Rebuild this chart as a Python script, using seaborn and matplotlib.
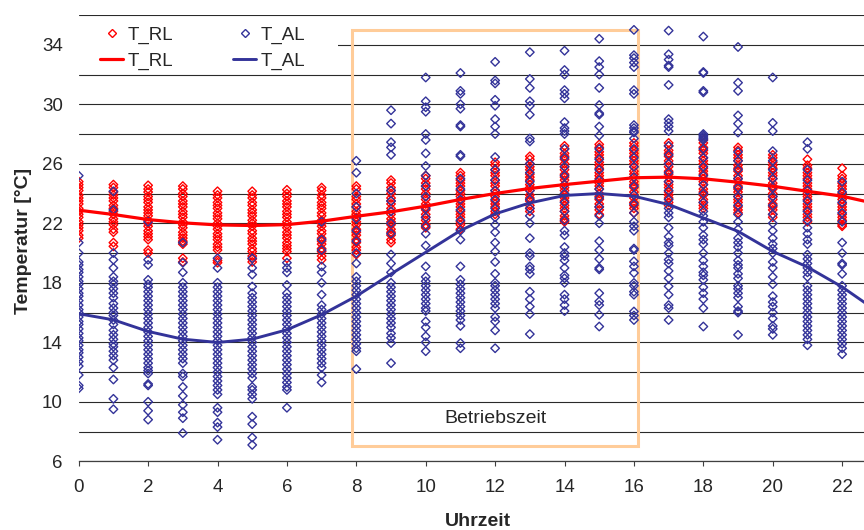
import matplotlib
matplotlib.use("Agg")
import matplotlib.pyplot as plt
import seaborn as sns
import pandas as pd
from matplotlib.lines import Line2D
from matplotlib.patches import Rectangle

# ---------------- data ----------------
# T_RL scatter values per hour (red diamonds)
RL_00 = [24.8, 24.6, 24.4, 24.2, 23.9, 23.7, 23.5, 23.3, 23.0, 22.8, 22.6, 22.4, 22.1, 21.9, 21.7, 21.5, 21.2, 21.0]
RL_01 = [24.6, 24.4, 24.1, 23.9, 23.7, 23.5, 23.2, 23.0, 22.8, 22.6, 22.3, 22.1, 21.9, 21.6, 21.4, 20.7, 20.45]
RL_02 = [24.55, 24.3, 24.1, 23.8, 23.6, 23.4, 23.1, 22.9, 22.7, 22.5, 22.2, 22.0, 21.8, 21.5, 21.3, 21.1, 20.9, 20.2, 20.0]
RL_03 = [24.5, 24.3, 24.0, 23.8, 23.5, 23.3, 23.1, 22.8, 22.6, 22.4, 22.1, 21.9, 21.7, 21.4, 21.2, 21.0, 20.8, 20.6, 19.65, 19.4]
RL_04 = [24.15, 23.9, 23.7, 23.4, 23.2, 23.0, 22.7, 22.5, 22.3, 22.0, 21.8, 21.6, 21.3, 21.1, 20.9, 20.6, 20.4, 20.2, 19.5, 19.35]
RL_05 = [24.15, 23.9, 23.7, 23.4, 23.2, 22.9, 22.7, 22.5, 22.2, 22.0, 21.8, 21.5, 21.3, 21.0, 20.8, 20.6, 20.3, 20.1, 19.8, 19.6, 19.4]
RL_06 = [24.25, 24.0, 23.8, 23.5, 23.3, 23.1, 22.8, 22.6, 22.4, 22.1, 21.9, 21.7, 21.4, 21.2, 21.0, 20.7, 20.5, 20.3, 20.1, 19.65]
RL_07 = [24.4, 24.2, 23.9, 23.7, 23.4, 23.2, 23.0, 22.7, 22.5, 22.2, 22.0, 21.8, 21.5, 21.3, 21.0, 20.8, 20.6, 20.3, 20.1, 19.8, 19.55]
RL_08 = [24.5, 24.3, 23.8, 23.6, 23.3, 23.1, 22.8, 22.6, 22.4, 22.1, 21.9, 21.6, 21.4, 21.2, 20.9, 20.7, 20.4, 20.2, 19.9]
RL_09 = [24.9, 24.7, 24.4, 24.2, 24.0, 23.7, 23.5, 23.3, 23.0, 22.8, 22.6, 22.3, 22.1, 21.9, 21.6, 21.4, 21.2, 20.9, 20.7]
RL_10 = [25.2, 25.0, 24.7, 24.5, 24.3, 24.0, 23.8, 23.6, 23.3, 23.1, 22.9, 22.6, 22.4, 22.2, 21.9, 21.7]
RL_11 = [25.4, 25.2, 24.9, 24.7, 24.5, 24.2, 24.0, 23.8, 23.5, 23.3, 23.1, 22.8, 22.6, 22.4, 22.1, 21.9, 21.6]
RL_12 = [26.1, 25.9, 25.6, 25.4, 25.2, 24.9, 24.7, 24.5, 24.2, 24.0, 23.8, 23.5, 23.3, 23.1, 22.8, 22.6]
RL_13 = [26.5, 26.3, 26.0, 25.8, 25.6, 25.3, 25.1, 24.9, 24.6, 24.4, 24.2, 23.9, 23.7, 23.5, 23.2, 23.0, 22.8]
RL_14 = [27.2, 27.0, 26.7, 26.5, 26.3, 26.0, 25.8, 25.6, 25.3, 25.1, 24.9, 24.6, 24.4, 24.2, 23.9, 23.7, 23.5, 23.2, 23.0, 22.8, 22.5, 22.3, 22.1]
RL_15 = [27.3, 27.1, 26.8, 26.6, 26.4, 26.1, 25.9, 25.7, 25.4, 25.2, 25.0, 24.7, 24.5, 24.3, 24.0, 23.8, 23.6, 23.3, 23.1, 22.9, 22.6]
RL_16 = [27.4, 27.2, 26.9, 26.7, 26.5, 26.2, 26.0, 25.8, 25.5, 25.3, 25.1, 24.8, 24.6, 24.4, 24.1, 23.9, 23.7, 23.4, 23.2, 23.0, 22.7]
RL_17 = [27.4, 27.2, 26.9, 26.7, 26.5, 26.2, 26.0, 25.8, 25.5, 25.3, 25.1, 24.8, 24.6, 24.4, 24.1, 23.9, 23.7, 23.4, 23.2]
RL_18 = [27.6, 27.4, 27.1, 26.9, 26.7, 26.4, 26.2, 26.0, 25.7, 25.5, 25.3, 25.0, 24.8, 24.6, 24.3, 24.1, 23.9, 23.6, 23.4, 23.2, 23.0]
RL_19 = [27.1, 26.9, 26.6, 26.4, 26.2, 25.9, 25.7, 25.5, 25.2, 25.0, 24.8, 24.5, 24.3, 24.1, 23.8, 23.6, 23.4, 23.1, 22.9, 22.7]
RL_20 = [26.6, 26.4, 26.1, 25.9, 25.7, 25.4, 25.2, 25.0, 24.7, 24.5, 24.3, 24.0, 23.8, 23.6, 23.3, 23.1, 22.9, 22.6, 22.4]
RL_21 = [26.3, 25.9, 25.7, 25.4, 25.2, 25.0, 24.7, 24.5, 24.3, 24.0, 23.8, 23.6, 23.3, 23.1, 22.9, 22.6, 22.4, 22.1]
RL_22 = [25.7, 25.2, 25.0, 24.7, 24.5, 24.3, 24.0, 23.8, 23.6, 23.3, 23.1, 22.9, 22.6, 22.4, 22.2, 21.9, 21.8]

# T_AL scatter values per hour (blue diamonds)
AL_00 = [25.2, 20.7, 20.0, 19.4, 19.2, 18.9, 18.7, 18.4, 18.1, 17.9, 17.6, 17.3, 17.1, 16.8, 16.5, 16.2, 16.0, 15.7, 15.4, 15.2, 14.9, 14.6, 14.3, 14.1, 13.8, 13.5, 13.3, 13.0, 12.7, 12.4, 11.8, 11.1, 10.9]
AL_01 = [24.15, 22.9, 20.0, 19.55, 19.0, 18.4, 18.1, 17.9, 17.6, 17.3, 17.0, 16.6, 16.3, 16.0, 15.8, 15.5, 15.2, 14.8, 14.5, 14.2, 13.9, 13.7, 13.4, 13.1, 12.8, 12.3, 11.5, 10.2, 9.5]
AL_02 = [22.1, 19.55, 19.2, 18.2, 17.9, 17.7, 17.4, 17.1, 16.8, 16.5, 16.2, 15.9, 15.6, 15.3, 15.0, 14.7, 14.4, 14.1, 13.8, 13.5, 13.2, 12.9, 12.6, 12.3, 12.1, 11.9, 11.2, 11.1, 10.0, 9.4, 8.8]
AL_03 = [20.7, 19.35, 18.7, 18.0, 17.7, 17.4, 17.1, 16.8, 16.5, 16.2, 15.9, 15.6, 15.3, 15.0, 14.7, 14.4, 14.1, 13.8, 13.5, 13.2, 12.9, 12.6, 11.9, 11.7, 11.0, 10.4, 9.8, 9.3, 8.9, 7.9]
AL_04 = [19.65, 19.0, 18.0, 17.7, 17.4, 17.1, 16.8, 16.5, 16.2, 15.9, 15.6, 15.3, 15.0, 14.7, 14.4, 14.1, 13.8, 13.5, 13.2, 12.9, 12.6, 12.3, 12.0, 11.7, 11.4, 11.1, 10.8, 10.5, 9.6, 9.3, 8.6, 8.3, 7.45]
AL_05 = [19.65, 19.0, 18.55, 17.75, 17.3, 17.0, 16.7, 16.4, 16.1, 15.8, 15.5, 15.2, 14.9, 14.6, 14.3, 14.0, 13.7, 13.4, 13.1, 12.8, 12.5, 12.2, 11.9, 11.6, 11.0, 10.8, 10.5, 10.2, 9.0, 8.5, 7.6, 7.1]
AL_06 = [19.35, 19.0, 18.7, 17.85, 17.3, 17.0, 16.7, 16.4, 16.1, 15.8, 15.5, 15.2, 14.9, 14.6, 14.3, 14.0, 13.7, 13.4, 13.1, 12.8, 12.5, 12.2, 11.9, 11.6, 11.3, 11.0, 10.8, 9.6]
AL_07 = [22.1, 20.9, 20.2, 19.1, 18.7, 18.0, 17.2, 16.5, 16.2, 15.9, 15.6, 15.3, 15.0, 14.7, 14.4, 14.1, 13.8, 13.5, 13.2, 12.9, 12.6, 12.3, 11.8, 11.3]
AL_08 = [26.2, 25.4, 24.0, 23.1, 22.3, 21.5, 20.8, 20.0, 19.3, 18.4, 18.1, 17.8, 17.5, 17.2, 16.9, 16.6, 16.3, 16.0, 15.7, 15.4, 15.1, 14.8, 14.5, 14.2, 13.9, 13.6, 13.4, 12.2]
AL_09 = [29.6, 28.7, 27.45, 27.1, 26.6, 24.2, 23.5, 22.8, 22.0, 21.3, 19.9, 19.3, 18.7, 18.0, 17.7, 17.4, 17.1, 16.8, 16.5, 16.2, 15.9, 15.6, 15.3, 15.0, 14.6, 14.3, 13.95, 12.6]
AL_10 = [31.8, 30.2, 29.8, 29.5, 28.0, 27.6, 26.7, 25.85, 25.2, 24.5, 23.8, 23.0, 22.4, 21.8, 21.3, 20.5, 19.1, 18.4, 18.1, 17.8, 17.5, 17.2, 16.9, 16.6, 16.3, 16.1, 15.4, 15.0, 14.4, 14.0, 13.4]
AL_11 = [32.1, 30.9, 30.7, 30.0, 29.7, 28.6, 28.5, 26.6, 26.5, 25.0, 24.3, 23.6, 22.9, 22.2, 21.5, 20.9, 19.1, 18.2, 17.9, 17.6, 17.3, 17.0, 16.7, 16.4, 16.1, 15.8, 15.5, 15.1, 13.95, 13.6]
AL_12 = [32.85, 31.6, 31.4, 30.3, 29.9, 29.0, 28.5, 28.0, 26.45, 25.6, 24.9, 24.2, 23.6, 23.0, 22.4, 21.9, 21.4, 20.7, 20.1, 19.4, 18.6, 18.0, 17.8, 17.5, 17.2, 16.9, 16.6, 16.3, 15.7, 15.4, 14.8, 13.6]
AL_13 = [33.5, 31.7, 31.1, 30.2, 29.9, 29.3, 27.7, 27.5, 26.0, 25.4, 24.8, 24.2, 23.6, 23.0, 22.5, 22.0, 21.0, 20.0, 19.8, 19.1, 18.9, 18.6, 17.4, 16.9, 16.4, 15.9, 14.55]
AL_14 = [33.6, 32.3, 32.0, 30.95, 30.7, 30.4, 28.8, 28.4, 28.2, 28.0, 27.0, 26.4, 25.8, 25.2, 24.6, 24.0, 23.4, 22.8, 22.2, 21.5, 21.2, 20.4, 20.0, 19.8, 19.5, 19.0, 18.5, 18.3, 18.0, 17.2, 16.9, 16.5, 16.1]
AL_15 = [34.4, 32.9, 32.5, 32.0, 31.1, 29.95, 29.4, 29.3, 28.5, 27.9, 27.0, 26.3, 25.6, 24.9, 24.3, 23.7, 23.1, 22.5, 22.0, 20.8, 20.2, 19.6, 19.0, 18.9, 17.3, 16.75, 16.5, 15.85, 15.06]
AL_16 = [35.0, 33.3, 33.1, 32.8, 32.5, 30.95, 30.7, 28.6, 28.4, 28.2, 28.1, 27.7, 27.0, 26.4, 25.8, 25.1, 24.5, 23.9, 23.3, 22.7, 22.1, 21.8, 21.5, 20.3, 20.2, 19.44, 19.1, 18.66, 17.99, 17.8, 17.4, 17.2, 16.07, 15.8, 15.5]
AL_17 = [34.95, 33.36, 33.0, 32.6, 32.5, 31.3, 29.0, 28.75, 28.5, 28.2, 27.2, 26.6, 26.0, 25.4, 24.8, 24.2, 23.6, 23.0, 22.7, 22.4, 21.7, 21.1, 20.7, 20.5, 20.0, 19.55, 19.3, 18.8, 18.3, 17.76, 17.2, 16.5, 16.3, 15.5]
AL_18 = [34.55, 32.17, 32.1, 30.9, 30.8, 28.0, 27.9, 27.8, 27.7, 27.6, 27.0, 26.4, 25.8, 25.2, 24.6, 24.0, 23.4, 22.8, 22.5, 22.1, 21.7, 21.2, 20.9, 20.6, 20.0, 19.5, 19.1, 18.7, 18.5, 18.2, 17.7, 17.3, 16.9, 16.3, 15.06]
AL_19 = [33.85, 31.45, 30.9, 29.25, 28.7, 28.1, 26.8, 26.2, 25.6, 25.0, 24.4, 23.8, 23.2, 22.6, 22.1, 21.6, 21.0, 20.7, 20.4, 20.0, 19.5, 19.2, 19.0, 18.6, 18.3, 17.8, 17.6, 17.3, 17.0, 16.4, 16.1, 16.0, 14.5]
AL_20 = [31.8, 28.75, 28.2, 26.85, 26.2, 25.6, 25.0, 24.4, 23.8, 23.2, 22.6, 22.0, 21.5, 21.0, 20.6, 20.3, 20.0, 19.4, 19.0, 18.4, 17.9, 17.1, 16.7, 16.4, 16.0, 15.6, 15.1, 14.9, 14.5]
AL_21 = [27.45, 27.0, 25.6, 24.9, 24.2, 23.5, 22.8, 22.2, 21.7, 21.3, 20.9, 20.6, 19.9, 19.6, 19.3, 19.0, 18.7, 18.4, 17.8, 17.5, 17.2, 16.9, 16.6, 16.3, 16.0, 15.7, 15.4, 15.1, 14.8, 14.5, 14.2, 13.8]
AL_22 = [24.8, 24.1, 23.4, 22.7, 22.1, 20.7, 20.0, 19.3, 19.2, 18.6, 17.8, 17.5, 17.2, 16.9, 16.6, 16.3, 16.0, 15.7, 15.4, 15.1, 14.8, 14.5, 14.2, 13.9, 13.6, 13.2]

# hourly line series
LINE_HOURS = list(range(24))
RL_LINE = [22.88, 22.59, 22.25, 22.03, 21.89, 21.85, 21.91, 22.14, 22.47, 22.77, 23.15, 23.6,
           24.0, 24.34, 24.6, 24.83, 25.06, 25.1, 24.99, 24.76, 24.49, 24.15, 23.82, 23.3]
AL_LINE = [15.92, 15.51, 14.73, 14.21, 13.99, 14.21, 14.84, 15.85, 17.1, 18.59, 20.05, 21.51,
           22.63, 23.37, 23.87, 24.0, 23.82, 23.26, 22.36, 21.46, 20.11, 19.06, 17.72, 16.1]

X_TICKS = list(range(0, 23, 2))
Y_LABELED = [6, 10, 14, 18, 22, 26, 30, 34]
BOX_LABEL = "Betriebszeit"

# ---------------- build tables ----------------
RL_ALL = [RL_00, RL_01, RL_02, RL_03, RL_04, RL_05, RL_06, RL_07, RL_08, RL_09, RL_10, RL_11,
          RL_12, RL_13, RL_14, RL_15, RL_16, RL_17, RL_18, RL_19, RL_20, RL_21, RL_22]
AL_ALL = [AL_00, AL_01, AL_02, AL_03, AL_04, AL_05, AL_06, AL_07, AL_08, AL_09, AL_10, AL_11,
          AL_12, AL_13, AL_14, AL_15, AL_16, AL_17, AL_18, AL_19, AL_20, AL_21, AL_22]

df_rl = pd.DataFrame([(h, v) for h, vals in enumerate(RL_ALL) for v in vals], columns=["Uhrzeit", "Temp"])
df_al = pd.DataFrame([(h, v) for h, vals in enumerate(AL_ALL) for v in vals], columns=["Uhrzeit", "Temp"])
df_line = pd.DataFrame({"Uhrzeit": LINE_HOURS, "RL": RL_LINE, "AL": AL_LINE})

RED = "#FF0000"
BLUE = "#333399"

sns.set_style("white")
plt.rcParams["font.family"] = ["Liberation Sans", "DejaVu Sans"]

fig = plt.figure(figsize=(8.64, 5.30), dpi=100)
ax = fig.add_axes([0.0911, 0.1296, 0.9089, 0.8421])
ax.set_axisbelow(True)

# Betriebszeit box
ax.add_patch(Rectangle((7.88, 7.0), 16.11 - 7.88, 35.0 - 7.0, fill=False,
                       edgecolor="#FFCC99", linewidth=2.2, zorder=1.5))
ax.text(12.0, 8.55, BOX_LABEL, ha="center", va="baseline", fontsize=14, zorder=5)

sns.scatterplot(data=df_rl, x="Uhrzeit", y="Temp", marker="D", s=19, color=RED,
                facecolor="none", edgecolor=RED, linewidth=1.0, ax=ax, legend=False, zorder=3)
sns.scatterplot(data=df_al, x="Uhrzeit", y="Temp", marker="D", s=19, color=BLUE,
                facecolor="none", edgecolor=BLUE, linewidth=1.0, ax=ax, legend=False, zorder=3.1)
sns.lineplot(data=df_line, x="Uhrzeit", y="RL", color=RED, linewidth=2.3, ax=ax, zorder=4)
sns.lineplot(data=df_line, x="Uhrzeit", y="AL", color=BLUE, linewidth=2.1, ax=ax, zorder=4.1)

ax.set_xlim(0, 22.63)
ax.set_ylim(6, 36)
ax.set_xticks(X_TICKS)
ax.set_xticklabels([str(t) for t in X_TICKS])
yt = list(range(6, 37, 2))
ax.set_yticks(yt)
ax.set_yticklabels([str(t) if t in Y_LABELED else "" for t in yt])
ax.yaxis.grid(True, color="#2a2a2a", linewidth=0.8)
ax.xaxis.grid(False)

for s in ["top", "right", "left"]:
    ax.spines[s].set_visible(False)
ax.spines["bottom"].set_color("#404040")
ax.spines["bottom"].set_linewidth(0.9)

ax.tick_params(axis="x", length=3.8, width=0.8, color="#404040", pad=9, labelsize=13.5, bottom=True)
ax.tick_params(axis="y", length=0, pad=11.5, labelsize=13.5)

ax.set_xlabel("Uhrzeit", fontsize=14, fontweight="bold")
ax.xaxis.set_label_coords(0.5085, -0.145)
ax.xaxis.label.set_va("baseline")
ax.set_ylabel("Temperatur [°C]", fontsize=14, fontweight="bold")
ax.yaxis.set_label_coords(-0.0709, 0.494)
ax.yaxis.label.set_va("center")

# white legend background
ax.add_patch(Rectangle((0, 0.870), 0.330, 0.125, transform=ax.transAxes,
                       facecolor="white", edgecolor="none", zorder=1))
handles = [
    Line2D([], [], marker="D", ls="none", mfc="none", mec=RED, ms=4.2, mew=1.0),
    Line2D([], [], color=RED, lw=2.3),
    Line2D([], [], marker="D", ls="none", mfc="none", mec=BLUE, ms=4.2, mew=1.0),
    Line2D([], [], color=BLUE, lw=2.1),
]
labels = ["T_RL", "T_RL", "T_AL", "T_AL"]
ax.legend(handles, labels, ncol=2, loc="upper left", bbox_to_anchor=(0.0271, 0.974),
          frameon=False, borderpad=0, borderaxespad=0, fontsize=13.5, handlelength=1.23,
          handletextpad=0.25, columnspacing=3.2, labelspacing=0.45)

fig.savefig("out.png", dpi=100)
